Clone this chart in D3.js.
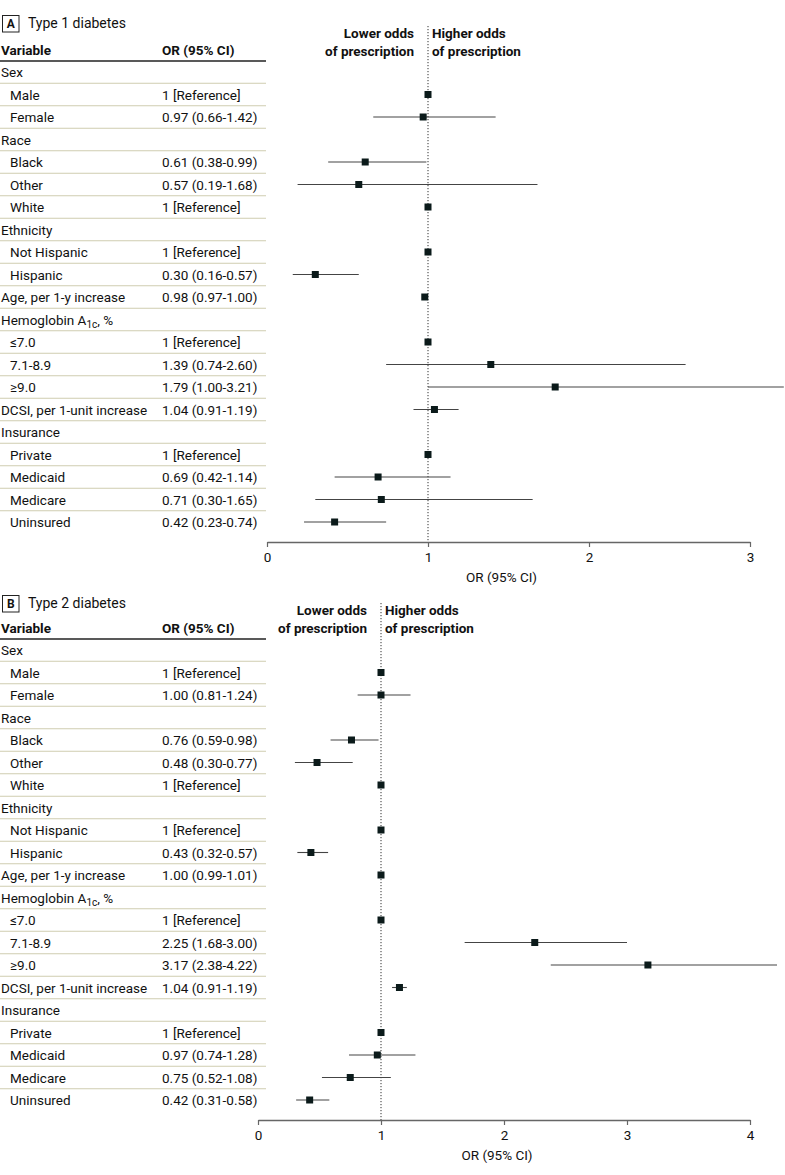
<!DOCTYPE html>
<html><head><meta charset="utf-8">
<script src="https://cdn.jsdelivr.net/npm/d3@7"></script>
<style>body{margin:0;background:#fff}svg{display:block}text{font-family:Roboto,Lato,sans-serif;fill:#111}</style>
</head><body><svg id="c" width="785" height="1175"></svg>
<script>
// row labels (level 0 = group header, 1 = indented item)
const labels = ["Sex","Male","Female","Race","Black","Other","White","Ethnicity","Not Hispanic","Hispanic","Age, per 1-y increase","Hemoglobin A1c, %","≤7.0","7.1-8.9","≥9.0","DCSI, per 1-unit increase","Insurance","Private","Medicaid","Medicare","Uninsured"];
const levels = [0,1,1,0,1,1,1,0,1,1,0,0,1,1,1,0,0,1,1,1,1];
// Panel A: Type 1 diabetes
const t1Text = ["","1 [Reference]","0.97 (0.66-1.42)","","0.61 (0.38-0.99)","0.57 (0.19-1.68)","1 [Reference]","","1 [Reference]","0.30 (0.16-0.57)","0.98 (0.97-1.00)","","1 [Reference]","1.39 (0.74-2.60)","1.79 (1.00-3.21)","1.04 (0.91-1.19)","","1 [Reference]","0.69 (0.42-1.14)","0.71 (0.30-1.65)","0.42 (0.23-0.74)"];
const t1OR  = [null,1,0.97,null,0.61,0.57,1,null,1,0.30,0.98,null,1,1.39,1.79,1.04,null,1,0.69,0.71,0.42];
const t1Lo  = [null,null,0.66,null,0.38,0.19,null,null,null,0.16,0.97,null,null,0.74,1.00,0.91,null,null,0.42,0.30,0.23];
const t1Hi  = [null,null,1.42,null,0.99,1.68,null,null,null,0.57,1.00,null,null,2.60,3.21,1.19,null,null,1.14,1.65,0.74];
const t1Ticks = [0,1,2,3];
// Panel B: Type 2 diabetes
const t2Text = ["","1 [Reference]","1.00 (0.81-1.24)","","0.76 (0.59-0.98)","0.48 (0.30-0.77)","1 [Reference]","","1 [Reference]","0.43 (0.32-0.57)","1.00 (0.99-1.01)","","1 [Reference]","2.25 (1.68-3.00)","3.17 (2.38-4.22)","1.04 (0.91-1.19)","","1 [Reference]","0.97 (0.74-1.28)","0.75 (0.52-1.08)","0.42 (0.31-0.58)"];
const t2OR  = [null,1,1.00,null,0.76,0.48,1,null,1,0.43,1.00,null,1,2.25,3.17,1.15,null,1,0.97,0.75,0.42];
const t2Lo  = [null,null,0.81,null,0.59,0.30,null,null,null,0.32,0.99,null,null,1.68,2.38,1.09,null,null,0.74,0.52,0.31];
const t2Hi  = [null,null,1.24,null,0.98,0.77,null,null,null,0.57,1.01,null,null,3.00,4.22,1.21,null,null,1.28,1.08,0.58];
const t2Ticks = [0,1,2,3,4];

const svg = d3.select("#c");
const FS = 13.5;

function panel(cfg){
  const g = svg.append("g");
  const rowY = d3.scalePoint().domain(d3.range(labels.length)).range([cfg.top, cfg.top + 22.5*(labels.length-1)]);
  const x = d3.scaleLinear().domain(cfg.domain).range([cfg.x0, 750]);
  const tblR = 266;
  // panel letter box
  g.append("rect").attr("x",2.5).attr("y",cfg.titleY-12.5).attr("width",16.5).attr("height",16.5).attr("fill","none").attr("stroke","#222").attr("stroke-width",1);
  g.append("text").attr("x",10.8).attr("y",cfg.titleY).attr("text-anchor","middle").attr("font-weight","bold").attr("font-size",12).text(cfg.letter);
  g.append("text").attr("x",28).attr("y",cfg.titleY).attr("font-size",14).text(cfg.title);
  // header
  const hy = cfg.top - 22;
  g.append("text").attr("x",1).attr("y",hy+5).attr("font-weight","bold").attr("font-size",FS).text("Variable");
  g.append("text").attr("x",162).attr("y",hy+5).attr("font-weight","bold").attr("font-size",FS).text("OR (95% CI)");
  g.append("line").attr("x1",0).attr("x2",tblR).attr("y1",cfg.top-11).attr("y2",cfg.top-11).attr("stroke","#222").attr("stroke-width",1.5);
  // separators
  g.selectAll("line.sep").data(d3.range(labels.length-1)).join("line")
    .attr("x1",0).attr("x2",tblR).attr("y1",i=>rowY(i)+11.25).attr("y2",i=>rowY(i)+11.25)
    .attr("stroke","#cfcdb0").attr("stroke-width",1);
  // labels
  const lab = g.selectAll("text.lab").data(labels).join("text")
    .attr("x",(d,i)=>levels[i]?10:1).attr("y",(d,i)=>rowY(i)+5).attr("font-size",FS);
  lab.each(function(d){
    const t = d3.select(this);
    if(d.startsWith("Hemoglobin")){
      t.append("tspan").text("Hemoglobin A");
      t.append("tspan").attr("dy",3.5).attr("font-size",10).text("1c");
      t.append("tspan").attr("dy",-3.5).text(", %");
    } else t.text(d);
  });
  g.selectAll("text.or").data(cfg.text).join("text")
    .attr("x",162).attr("y",(d,i)=>rowY(i)+5).attr("font-size",FS).text(d=>d);
  // header notes
  const ly = cfg.noteY;
  g.append("text").attr("x",x(1)-14).attr("y",ly).attr("text-anchor","end").attr("font-weight","bold").attr("font-size",FS).text("Lower odds");
  g.append("text").attr("x",x(1)-14).attr("y",ly+18).attr("text-anchor","end").attr("font-weight","bold").attr("font-size",FS).text("of prescription");
  g.append("text").attr("x",x(1)+4).attr("y",ly).attr("font-weight","bold").attr("font-size",FS).text("Higher odds");
  g.append("text").attr("x",x(1)+4).attr("y",ly+18).attr("font-weight","bold").attr("font-size",FS).text("of prescription");
  // reference line
  const axisY = rowY(labels.length-1) + 20;
  g.append("line").attr("x1",x(1)).attr("x2",x(1)).attr("y1",ly-12).attr("y2",axisY)
    .attr("stroke","#333").attr("stroke-width",1).attr("stroke-dasharray","1.2,1.8");
  // CIs
  const idx = d3.range(labels.length).filter(i=>cfg.lo[i]!=null);
  g.selectAll("line.ci").data(idx).join("line")
    .attr("x1",i=>x(cfg.lo[i])).attr("x2",i=>Math.min(x(cfg.hi[i]),784))
    .attr("y1",i=>rowY(i)).attr("y2",i=>rowY(i)).attr("stroke","#444").attr("stroke-width",1.1);
  const pts = d3.range(labels.length).filter(i=>cfg.or[i]!=null);
  g.selectAll("rect.pt").data(pts).join("rect")
    .attr("x",i=>x(cfg.or[i])-3.5).attr("y",i=>rowY(i)-3.5).attr("width",7).attr("height",7).attr("fill","#0b1a1a");
  // axis
  const ax = g.append("g").attr("transform",`translate(0,${axisY})`)
    .call(d3.axisBottom(x).tickValues(cfg.ticks).tickFormat(d3.format("d")).tickSize(5).tickSizeOuter(0));
  ax.select(".domain").attr("stroke","#666").attr("stroke-width",1.6);
  ax.selectAll(".tick line").attr("stroke","#666").attr("stroke-width",1.2);
  ax.selectAll(".tick text").attr("font-size",FS).attr("font-family","Roboto,sans-serif").attr("fill","#111").attr("dy","0.9em");
  g.append("text").attr("x",(x.range()[0]+x.range()[1])/2 - 7).attr("y",axisY+40).attr("text-anchor","middle").attr("font-size",FS).text("OR (95% CI)");
}

panel({letter:"A",title:"Type 1 diabetes",titleY:28,noteY:38,top:72,domain:[0,3],x0:267,ticks:t1Ticks,text:t1Text,or:t1OR,lo:t1Lo,hi:t1Hi});
panel({letter:"B",title:"Type 2 diabetes",titleY:608,noteY:615,top:650,domain:[0,4],x0:258,ticks:t2Ticks,text:t2Text,or:t2OR,lo:t2Lo,hi:t2Hi});
</script></body></html>
